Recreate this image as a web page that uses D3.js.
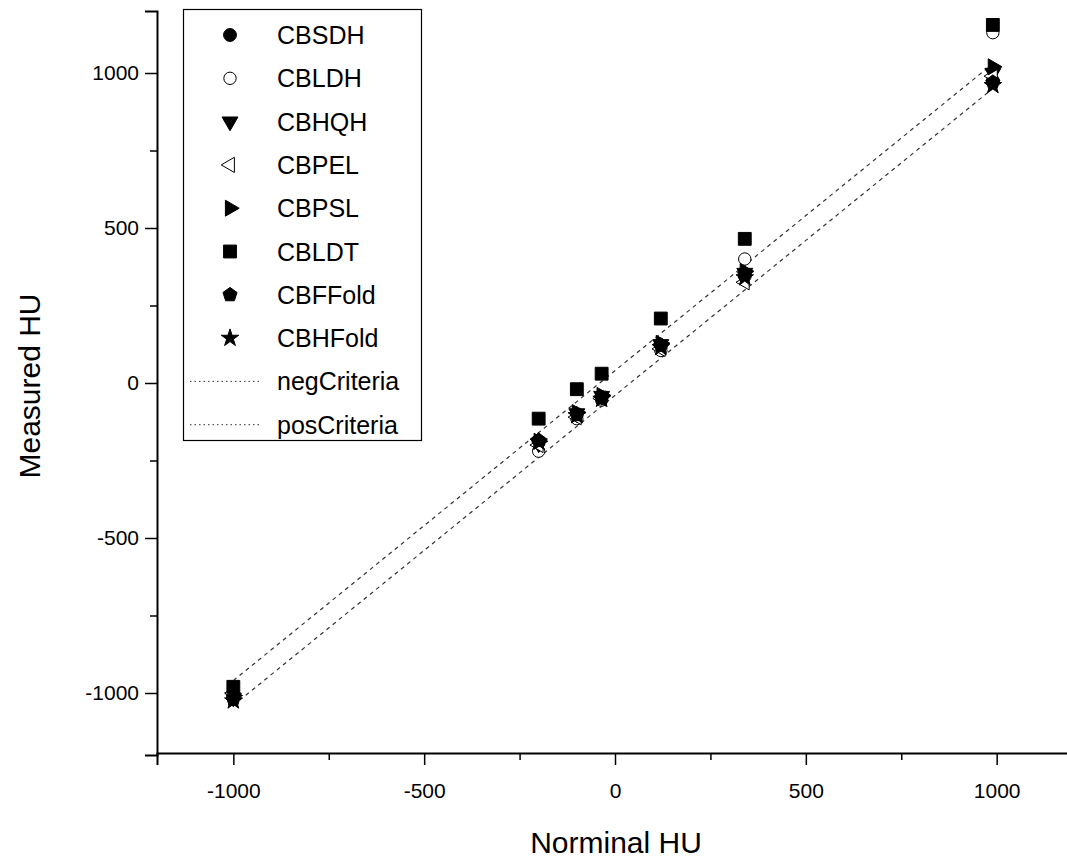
<!DOCTYPE html>
<html>
<head>
<meta charset="utf-8">
<script src="https://cdn.jsdelivr.net/npm/d3@7"></script>
<style>
  body { margin: 0; background: #fff; }
  svg { display: block; font-family: "Liberation Sans", Arial, sans-serif; }
</style>
</head>
<body>
<svg id="graph"></svg>
<script>
/* data */
var nominal = [-1000, -200, -100, -35, 120, 340, 990];

var CBSDH   = [-1005, -192, -100, -45, 118, 345, 975];
var CBLDH   = [-1010, -220, -115, -55, 105, 400, 1130];
var CBHQH   = [-1015, -195, -98, -42, 125, 355, 1000];
var CBPEL   = [-1000, -200, -110, -50, 110, 325, 990];
var CBPSL   = [-1008, -188, -95, -40, 128, 360, 1020];
var CBLDT   = [-980, -115, -20, 30, 208, 465, 1155];
var CBFFold = [-1020, -185, -102, -48, 122, 350, 970];
var CBHFold = [-1025, -190, -105, -52, 115, 340, 960];

var negCriteria = [-1040, -240, -140, -75, 80, 300, 950];
var posCriteria = [-960, -160, -60, 5, 160, 380, 1030];

var xTicks = [-1000, -500, 0, 500, 1000];
var yTicks = [-1000, -500, 0, 500, 1000];
var minorTicks = [-750, -250, 250, 750];

/* BOILERPLATE */
var svg = d3.select("#graph")
    .attr("width", 1067)
    .attr("height", 862);

var x = d3.scaleLinear().domain([-1200, 1200]).range([157, 1073]),
    y = d3.scaleLinear().domain([-1200, 1200]).range([755, 11]);

// pentagon isn't one of d3's symbols, so make one
var symbolPentagon = {
  draw: function(ctx, size) {
    var r = Math.sqrt(size / (2.5 * Math.sin(2 * Math.PI / 5)));
    for (var i = 0; i < 5; i++) {
      var a = -Math.PI / 2 + i * 2 * Math.PI / 5;
      if (i == 0) ctx.moveTo(r * Math.cos(a), r * Math.sin(a));
      else ctx.lineTo(r * Math.cos(a), r * Math.sin(a));
    }
    ctx.closePath();
  }
};

var series = [
  {name: "CBSDH",   values: CBSDH,   type: d3.symbolCircle,   size: 130, rot: 0,   open: false},
  {name: "CBLDH",   values: CBLDH,   type: d3.symbolCircle,   size: 120, rot: 0,   open: true},
  {name: "CBHQH",   values: CBHQH,   type: d3.symbolTriangle, size: 110, rot: 180, open: false},
  {name: "CBPEL",   values: CBPEL,   type: d3.symbolTriangle, size: 100, rot: -90, open: true},
  {name: "CBPSL",   values: CBPSL,   type: d3.symbolTriangle, size: 110, rot: 90,  open: false},
  {name: "CBLDT",   values: CBLDT,   type: d3.symbolSquare,   size: 165, rot: 0,   open: false},
  {name: "CBFFold", values: CBFFold, type: symbolPentagon,    size: 130, rot: 0,   open: false},
  {name: "CBHFold", values: CBHFold, type: d3.symbolStar,     size: 95,  rot: 0,   open: false}
];
var criteria = [
  {name: "negCriteria", values: negCriteria},
  {name: "posCriteria", values: posCriteria}
];

var fmt = function(d) { return String(d); };   // plain hyphen minus like the original

/* axes */
var xaxis = svg.append("g")
    .attr("transform", "translate(0,753)")
    .call(d3.axisBottom(x).tickValues(xTicks).tickSize(12).tickPadding(18).tickFormat(fmt));
svg.append("g")
    .attr("transform", "translate(0,753)")
    .call(d3.axisBottom(x).tickValues(minorTicks).tickSize(7).tickFormat(""))
    .select(".domain").remove();

var yaxis = svg.append("g")
    .attr("transform", "translate(157,0)")
    .call(d3.axisLeft(y).tickValues(yTicks).tickSize(12).tickPadding(6).tickFormat(fmt));
svg.append("g")
    .attr("transform", "translate(157,0)")
    .call(d3.axisLeft(y).tickValues(minorTicks).tickSize(7).tickFormat(""))
    .select(".domain").remove();

svg.selectAll(".domain").attr("stroke", "#000").attr("stroke-width", 2);
svg.selectAll(".tick line").attr("stroke", "#000").attr("stroke-width", 1.5);
svg.selectAll(".tick text")
    .attr("fill", "#000")
    .style("font-size", "21px")
    .style("font-family", "'Liberation Sans', Arial, sans-serif");

svg.append("text")
    .attr("x", 616).attr("y", 853)
    .attr("text-anchor", "middle")
    .style("font-size", "30px")
    .text("Norminal HU");

svg.append("text")
    .attr("transform", "translate(40,386) rotate(-90)")
    .attr("text-anchor", "middle")
    .style("font-size", "30px")
    .text("Measured HU");

/* criteria lines */
var line = d3.line()
    .x(function(d, i) { return x(nominal[i]); })
    .y(function(d) { return y(d); });

svg.selectAll(".crit")
  .data(criteria)
  .enter().append("path")
    .attr("class", "crit")
    .attr("d", function(d) { return line(d.values); })
    .attr("fill", "none")
    .attr("stroke", "#333")
    .attr("stroke-width", 1.2)
    .attr("stroke-dasharray", "4,4");

/* markers */
var groups = svg.selectAll(".series")
  .data(series)
  .enter().append("g")
    .attr("class", "series");

groups.selectAll("path")
  .data(function(s) {
    return s.values.map(function(v, i) { return {s: s, x: nominal[i], y: v}; });
  })
  .enter().append("path")
    .attr("d", function(d) { return d3.symbol().type(d.s.type).size(d.s.size)(); })
    .attr("transform", function(d) {
      return "translate(" + x(d.x) + "," + y(d.y) + ") rotate(" + d.s.rot + ")";
    })
    .attr("fill", function(d) { return d.s.open ? "#fff" : "#000"; })
    .attr("stroke", "#000")
    .attr("stroke-width", 1);

/* legend */
var legend = svg.append("g");
legend.append("rect")
    .attr("x", 183.5).attr("y", 9.5)
    .attr("width", 238).attr("height", 431)
    .attr("fill", "#fff")
    .attr("stroke", "#000")
    .attr("stroke-width", 1.2);

var rowY = function(i) { return 35 + i * 43.3; };

var items = legend.selectAll(".item")
  .data(series.concat(criteria))
  .enter().append("g")
    .attr("class", "item")
    .attr("transform", function(d, i) { return "translate(0," + rowY(i) + ")"; });

items.filter(function(d) { return d.type; })
  .append("path")
    .attr("d", function(d) { return d3.symbol().type(d.type).size(d.size)(); })
    .attr("transform", function(d) { return "translate(230,0) rotate(" + d.rot + ")"; })
    .attr("fill", function(d) { return d.open ? "#fff" : "#000"; })
    .attr("stroke", "#000")
    .attr("stroke-width", 1);

items.filter(function(d) { return !d.type; })
  .append("line")
    .attr("x1", 190).attr("x2", 262)
    .attr("stroke", "#333")
    .attr("stroke-width", 1)
    .attr("stroke-dasharray", "1.5,3");

items.append("text")
    .attr("x", 277)
    .attr("dy", "0.36em")
    .style("font-size", "25px")
    .text(function(d) { return d.name; });
</script>
</body>
</html>
